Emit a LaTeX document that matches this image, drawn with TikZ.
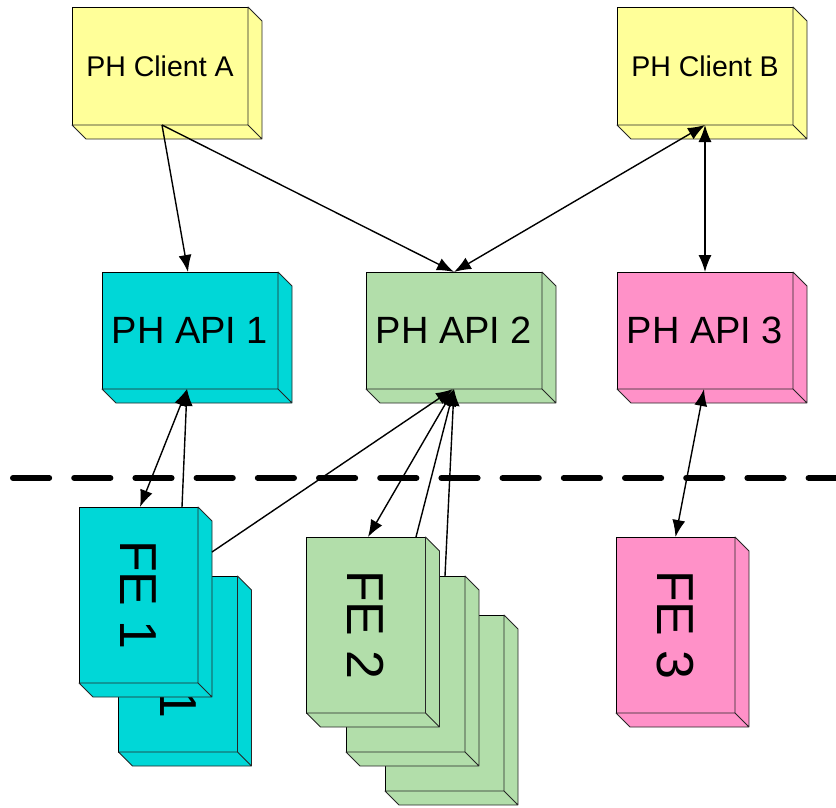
\documentclass[tikz,border=0pt]{standalone}
\usepackage{fontspec}
\setmainfont{Liberation Sans}
\usepackage{tikz}
\usetikzlibrary{calc}
\usetikzlibrary{arrows.meta}

\definecolor{phyellow}{RGB}{255,255,153}
\definecolor{phcyan}{RGB}{0,215,215}
\definecolor{phgreen}{RGB}{178,222,170}
\definecolor{phpink}{RGB}{255,145,200}

\newcommand{\clientfont}{\fontsize{28.5}{34}\selectfont}
\newcommand{\apifont}{\fontsize{38}{44}\selectfont}
\newcommand{\fefont}{\fontsize{52}{60}\selectfont}

% depth faces (right and bottom) of a box node
\newcommand{\boxdepth}[2]{%
	\filldraw[fill=#2, draw=black!85, line width=0.8pt, line join=round]
	(#1.north east) -- ++(14,14) -- ($(#1.south east)+(14,14)$) -- (#1.south east) -- cycle
	(#1.south west) -- ++(14,14) -- ($(#1.south east)+(14,14)$) -- (#1.south east) -- cycle;
}

\tikzset{
	box/.style={draw=black, line width=0.8pt, inner sep=0pt, outer sep=0pt},
	client/.style={box, fill=phyellow, minimum width=176pt, minimum height=118pt, font=\clientfont},
	api/.style={box, minimum width=176pt, minimum height=117pt, font=\apifont},
	fe/.style={box, minimum width=119pt, minimum height=176pt, font=\fefont},
	arr/.style={-{Latex[length=17pt,width=13pt]}, line width=1.4pt},
	darr/.style={{Latex[length=17pt,width=13pt]}-{Latex[length=17pt,width=13pt]}, line width=1.4pt},
}

\begin{document}
\begin{tikzpicture}[x=1pt,y=-1pt]
	
	\useasboundingbox (0,0) rectangle (836,808);
	
	% clients
	\node[client] (cla) at (160,66) {PH Client A};
	\boxdepth{cla}{phyellow}
	\node[client] (clb) at (705,66) {PH Client B};
	\boxdepth{clb}{phyellow}
	
	% apis
	\node[api, fill=phcyan] (api1) at (190,330.5) {PH API 1};
	\boxdepth{api1}{phcyan}
	\node[api, fill=phgreen] (api2) at (454,330.5) {PH API 2};
	\boxdepth{api2}{phgreen}
	\node[api, fill=phpink] (api3) at (705,330.5) {PH API 3};
	\boxdepth{api3}{phpink}
	
	% dashed border
	\draw[line width=6pt, line cap=round, dash pattern=on 36.2pt off 25pt] (13,478) -- (845,478);
	
	% front ends 1
	\node[fe, fill=phcyan] (fe1b) at (178,664) {\rotatebox[origin=c]{-90}{FE 1}};
	\boxdepth{fe1b}{phcyan}
	\node[fe, fill=phcyan] (fe1) at (138.5,595) {\rotatebox[origin=c]{-90}{FE 1}};
	\boxdepth{fe1}{phcyan}
	
	% front ends 2
	\node[fe, fill=phgreen] (fe2c) at (444.5,703) {};
	\boxdepth{fe2c}{phgreen}
	\node[fe, fill=phgreen] (fe2b) at (405.5,664) {};
	\boxdepth{fe2b}{phgreen}
	\node[fe, fill=phgreen] (fe2) at (366,625) {\rotatebox[origin=c]{-90}{FE 2}};
	\boxdepth{fe2}{phgreen}
	
	% front end 3
	\node[fe, fill=phpink] (fe3) at (675.5,625) {\rotatebox[origin=c]{-90}{FE 3}};
	\boxdepth{fe3}{phpink}
	
	% connectors
	\draw[arr] ([xshift=2pt]cla.south) -- ([xshift=-2pt]api1.north);
	\draw[arr] ([xshift=2pt]cla.south) -- (api2.north);
	\draw[darr] (clb.south) -- (api2.north);
	\draw[darr] (clb.south) -- (api3.north);
	
	\draw[darr] ([xshift=-3pt]api1.south) -- ([xshift=1.5pt]fe1.north);
	\draw[arr] ([xshift=43.5pt]fe1.north) -- ([xshift=-3pt]api1.south);
	\draw[arr] ([xshift=14pt,yshift=-45pt]fe1.north east) -- ([xshift=-1pt]api2.south);
	
	\draw[darr] (api2.south) -- ([xshift=2pt]fe2.north);
	\draw[arr] ([xshift=50pt]fe2.north) -- (api2.south);
	\draw[arr] ([xshift=39.5pt]fe2b.north) -- (api2.south);
	
	\draw[darr] ([xshift=-1pt]api3.south) -- (fe3.north);
	
\end{tikzpicture}
\end{document}
